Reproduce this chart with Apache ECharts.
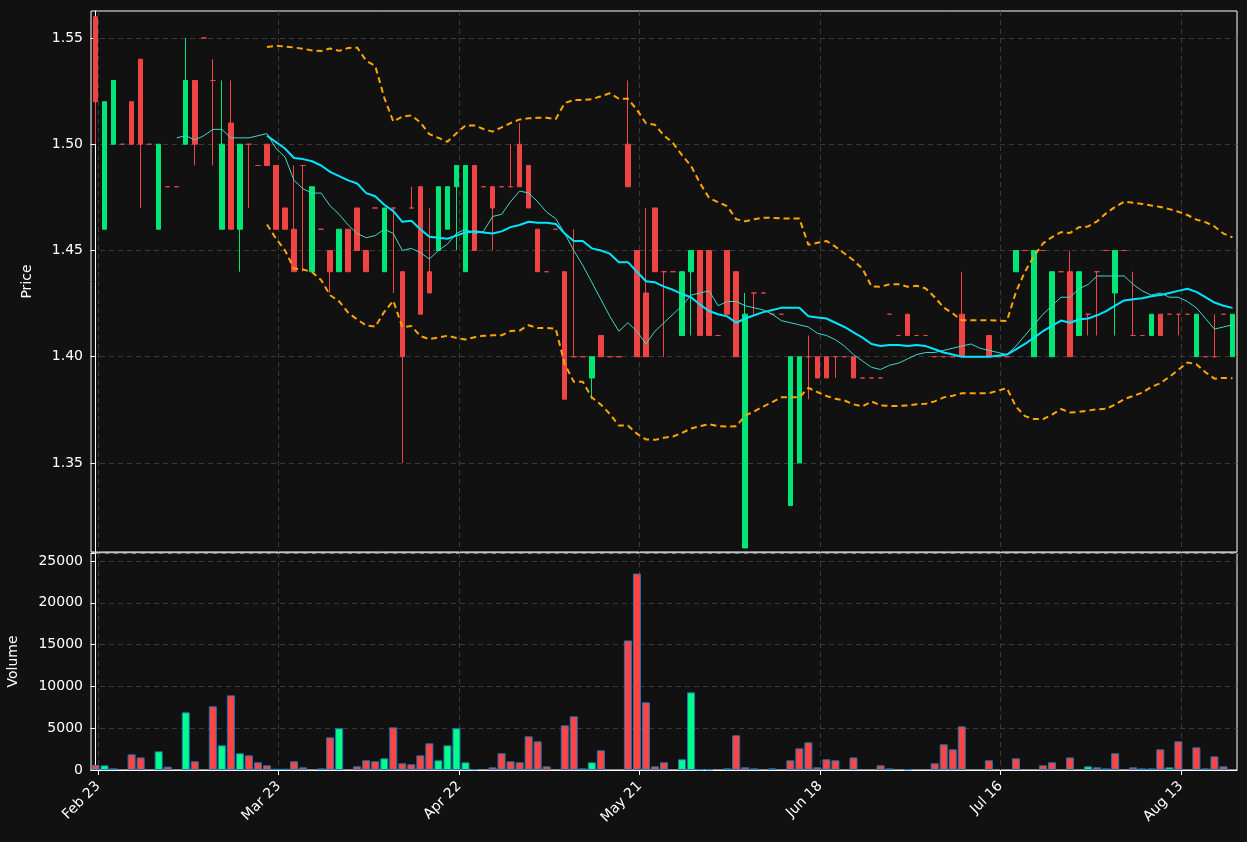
<!DOCTYPE html>
<html>
<head>
    <title>Price / Volume</title>
    <script src="https://cdn.jsdelivr.net/npm/echarts@6.0.0/dist/echarts.min.js"></script>
    <style>
        html, body { margin: 0; padding: 0; background: #111111; }
        #chart { width: 1247px; height: 842px; }
    </style>
</head>
<body>
    <div id="chart"></div>
    <script>
        // tick labels, one every 20 bars
        const tickLabels = ['Feb 23', 'Mar 23', 'Apr 22', 'May 21', 'Jun 18', 'Jul 16', 'Aug 13'];
        const tickPos = [0.3, 20.3, 40.3, 60.3, 80.3, 100.3, 120.3];

        const opens = [1.56,1.46,1.50,1.50,1.52,1.54,1.50,1.46,1.48,1.48,1.50,1.53,1.55,1.53,1.46,1.51,1.46,1.50,1.49,1.50,
            1.49,1.47,1.46,1.49,1.44,1.46,1.45,1.44,1.46,1.47,1.45,1.47,1.44,1.47,1.44,1.47,1.48,1.44,1.45,1.46,
            1.48,1.44,1.49,1.48,1.48,1.48,1.48,1.50,1.49,1.46,1.44,1.46,1.44,1.40,1.40,1.39,1.41,1.40,1.40,1.50,
            1.45,1.43,1.47,1.44,1.44,1.41,1.44,1.45,1.45,1.41,1.45,1.44,1.31,1.43,1.43,1.42,1.42,1.33,1.35,1.40,
            1.40,1.40,1.40,1.40,1.40,1.39,1.39,1.39,1.42,1.41,1.42,1.41,1.41,1.40,1.40,1.40,1.42,1.40,1.40,1.41,
            1.40,1.40,1.44,1.45,1.40,1.45,1.40,1.44,1.44,1.41,1.42,1.44,1.45,1.43,1.45,1.41,1.41,1.41,1.42,1.42,
            1.42,1.42,1.40,1.40,1.40,1.42,1.40];
        const closes = [1.52,1.52,1.53,1.50,1.50,1.50,1.50,1.50,1.48,1.48,1.53,1.50,1.55,1.53,1.50,1.46,1.50,1.50,1.49,1.49,
            1.46,1.46,1.44,1.49,1.48,1.46,1.44,1.46,1.44,1.45,1.44,1.47,1.47,1.47,1.40,1.47,1.42,1.43,1.48,1.48,
            1.49,1.49,1.45,1.48,1.47,1.48,1.48,1.48,1.47,1.44,1.44,1.46,1.38,1.40,1.40,1.40,1.40,1.40,1.40,1.48,
            1.40,1.40,1.44,1.44,1.44,1.44,1.45,1.41,1.41,1.41,1.42,1.40,1.42,1.43,1.43,1.42,1.42,1.40,1.40,1.40,
            1.39,1.39,1.40,1.40,1.39,1.39,1.39,1.39,1.42,1.41,1.41,1.41,1.41,1.40,1.40,1.40,1.40,1.40,1.40,1.40,
            1.40,1.40,1.45,1.45,1.45,1.45,1.44,1.44,1.40,1.44,1.42,1.44,1.45,1.45,1.45,1.41,1.41,1.42,1.41,1.42,
            1.42,1.42,1.42,1.40,1.40,1.42,1.42];
        const highs = [1.56,1.52,1.53,1.50,1.52,1.54,1.50,1.50,1.48,1.48,1.55,1.53,1.55,1.54,1.53,1.53,1.50,1.50,1.49,1.50,
            1.49,1.47,1.49,1.49,1.48,1.46,1.45,1.46,1.46,1.47,1.45,1.47,1.47,1.47,1.44,1.48,1.48,1.47,1.48,1.48,
            1.49,1.49,1.49,1.48,1.48,1.48,1.50,1.51,1.49,1.46,1.44,1.46,1.44,1.46,1.40,1.40,1.41,1.40,1.40,1.53,
            1.45,1.47,1.47,1.44,1.44,1.44,1.45,1.45,1.45,1.41,1.45,1.44,1.43,1.43,1.43,1.42,1.42,1.40,1.40,1.41,
            1.40,1.40,1.40,1.40,1.40,1.39,1.39,1.39,1.42,1.41,1.42,1.41,1.41,1.40,1.40,1.40,1.44,1.40,1.40,1.41,
            1.40,1.40,1.45,1.45,1.45,1.45,1.44,1.44,1.45,1.44,1.42,1.44,1.45,1.45,1.45,1.44,1.41,1.42,1.42,1.42,
            1.42,1.42,1.42,1.40,1.42,1.42,1.42];
        const lows = [1.50,1.46,1.50,1.50,1.50,1.47,1.50,1.46,1.48,1.48,1.50,1.49,1.55,1.49,1.46,1.46,1.44,1.47,1.49,1.49,
            1.46,1.46,1.44,1.44,1.44,1.46,1.43,1.44,1.44,1.45,1.44,1.47,1.44,1.43,1.35,1.47,1.42,1.43,1.45,1.46,
            1.45,1.44,1.45,1.48,1.45,1.48,1.48,1.48,1.47,1.44,1.44,1.46,1.38,1.40,1.40,1.38,1.40,1.40,1.40,1.48,
            1.40,1.40,1.44,1.40,1.44,1.41,1.41,1.41,1.41,1.41,1.42,1.40,1.31,1.42,1.43,1.42,1.42,1.33,1.35,1.38,
            1.39,1.39,1.39,1.40,1.39,1.39,1.39,1.39,1.42,1.41,1.41,1.41,1.41,1.40,1.40,1.40,1.40,1.40,1.40,1.40,
            1.40,1.40,1.44,1.45,1.40,1.45,1.40,1.44,1.40,1.41,1.41,1.41,1.45,1.41,1.45,1.41,1.41,1.41,1.41,1.42,
            1.41,1.42,1.40,1.40,1.40,1.42,1.40];

        const volumes = [600,560,200,0,1870,1500,0,2230,400,0,6900,1040,0,7620,2950,8930,2000,1750,920,560,
            160,160,1040,320,0,200,3900,5000,0,440,1160,1040,1400,5100,800,680,1750,3190,1160,2950,
            5000,920,100,0,320,2000,1040,920,4030,3430,440,0,5340,6420,200,920,2350,0,0,15500,
            23500,8100,440,920,0,1280,9290,80,80,0,200,4150,320,200,0,200,0,1160,2590,3310,
            320,1280,1160,0,1500,0,0,560,200,0,80,0,0,800,3070,2470,5220,0,0,1160,
            0,0,1400,0,0,560,920,0,1500,0,440,320,200,2000,0,320,200,200,2470,320,
            3430,0,2710,200,1630,440,0];
        const volumeUp = 'rggrrrrgrrgrrrgrgrrrrrrrrrrgrrrrgrrrrrgggggrrrrrrrrrrrrgrrrrrrrrgggggrgrrrrggrrrrrrrrrrrrgrrrrrrrrrrgrrrgrrrrrgrrrgrrrrgrrrr';

        const UP = '#00e676', DOWN = '#ef4444';
        const VUP = '#00ff88', VDOWN = '#ff4444';

        const n = closes.length;
        const cats = closes.map((_, i) => String(i));

        // rolling mean / bollinger from the closes
        function rolling(win, fn) {
            return closes.map((_, i) => {
                if (i < win - 1) return '-';
                const w = closes.slice(i - win + 1, i + 1);
                return fn(w);
            });
        }
        const mean = w => w.reduce((a, b) => a + b, 0) / w.length;
        const sd = w => { const m = mean(w); return Math.sqrt(w.reduce((a, b) => a + (b - m) * (b - m), 0) / (w.length - 1)); };
        const ma10 = rolling(10, mean);
        const ma20 = rolling(20, mean);
        const bbUp = rolling(20, w => mean(w) + 2 * sd(w));
        const bbLo = rolling(20, w => mean(w) - 2 * sd(w));

        const candles = closes.map((c, i) => [opens[i], c, lows[i], highs[i]]);
        const volData = volumes.map((v, i) => ({
            value: v > 0 ? v : '-',
            itemStyle: { color: volumeUp[i] === 'g' ? VUP : VDOWN }
        }));

        const axisText = { color: '#ffffff', fontSize: 14, fontFamily: 'DejaVu Sans' };
        const gridLine = { show: true, lineStyle: { color: '#3a3a3a', type: [5, 4], width: 1 } };
        const frame = { show: true, lineStyle: { color: '#ffffff', width: 1 } };

        // hidden category axis carries the marks; value axis carries dated ticks
        function catAxis(g) {
            return {
                type: 'category', data: cats, gridIndex: g, boundaryGap: true, position: 'top',
                axisLine: { show: false }, axisTick: { show: false }, axisLabel: { show: false },
                splitLine: { show: false }
            };
        }
        function dateAxis(g, labels) {
            return {
                type: 'value', gridIndex: g, min: -0.5, max: n - 0.5, position: 'bottom',
                axisLine: labels ? frame : { show: false },
                axisTick: { show: labels, customValues: tickPos, lineStyle: { color: '#ffffff' } },
                axisLabel: Object.assign({}, axisText, {
                    show: labels,
                    customValues: tickPos,
                    rotate: 45,
                    margin: 14,
                    padding: [0, 0, 0, 0],
                    formatter: v => tickLabels[Math.round((v - 0.3) / 20)] || ''
                }),
                splitLine: gridLine
            };
        }

        const chart = echarts.init(document.getElementById('chart'));
        chart.setOption({
            backgroundColor: '#111111',
            animation: false,
            grid: [
                { left: 91, right: 10, top: 11, height: 541, show: true, borderColor: '#ffffff', borderWidth: 1, outerBoundsMode: 'none' },
                { left: 91, right: 10, top: 553, height: 217, show: true, borderColor: '#ffffff', borderWidth: 1, outerBoundsMode: 'none' }
            ],
            xAxis: [catAxis(0), catAxis(1), dateAxis(0, false), dateAxis(1, true)],
            yAxis: [
                {
                    type: 'value', gridIndex: 0, min: 1.3081, max: 1.5627, scale: true,
                    name: 'Price', nameLocation: 'middle', nameGap: 40, nameRotate: 90,
                    nameTextStyle: axisText,
                    axisLine: frame,
                    axisTick: { show: true, customValues: [1.35, 1.40, 1.45, 1.50, 1.55], lineStyle: { color: '#ffffff' } },
                    axisLabel: Object.assign({}, axisText, {
                        customValues: [1.35, 1.40, 1.45, 1.50, 1.55],
                        formatter: v => v.toFixed(2)
                    }),
                    splitLine: gridLine
                },
                {
                    type: 'value', gridIndex: 1, min: 0, max: 25960, interval: 5000,
                    name: 'Volume', nameLocation: 'middle', nameGap: 55, nameRotate: 90,
                    nameTextStyle: axisText,
                    axisLine: frame,
                    axisTick: { show: true, lineStyle: { color: '#ffffff' } },
                    axisLabel: Object.assign({}, axisText, {
                        formatter: v => (v > 25000 ? '' : String(v))
                    }),
                    splitLine: gridLine
                }
            ],
            series: [
                {
                    type: 'candlestick', name: 'Price', xAxisIndex: 0, yAxisIndex: 0,
                    data: candles, barWidth: 5,
                    itemStyle: {
                        color: UP, color0: DOWN, borderColor: UP, borderColor0: DOWN,
                        borderColorDoji: DOWN, borderWidth: 1
                    },
                    z: 2
                },
                {
                    type: 'line', name: 'MA10', data: ma10, xAxisIndex: 0, yAxisIndex: 0,
                    showSymbol: false, lineStyle: { color: '#3fd9c8', width: 1 }, z: 3
                },
                {
                    type: 'line', name: 'MA20', data: ma20, xAxisIndex: 0, yAxisIndex: 0,
                    showSymbol: false, lineStyle: { color: '#00e5ff', width: 2 }, z: 4
                },
                {
                    type: 'line', name: 'Upper', data: bbUp, xAxisIndex: 0, yAxisIndex: 0,
                    showSymbol: false, lineStyle: { color: '#ffa500', width: 2, type: [6, 4] }, z: 4
                },
                {
                    type: 'line', name: 'Lower', data: bbLo, xAxisIndex: 0, yAxisIndex: 0,
                    showSymbol: false, lineStyle: { color: '#ffa500', width: 2, type: [6, 4] }, z: 4
                },
                {
                    type: 'bar', name: 'Volume', data: volData, xAxisIndex: 1, yAxisIndex: 1,
                    barWidth: 8, itemStyle: { borderColor: '#1f77b4', borderWidth: 1 }
                }
            ]
        });
    </script>
</body>
</html>
